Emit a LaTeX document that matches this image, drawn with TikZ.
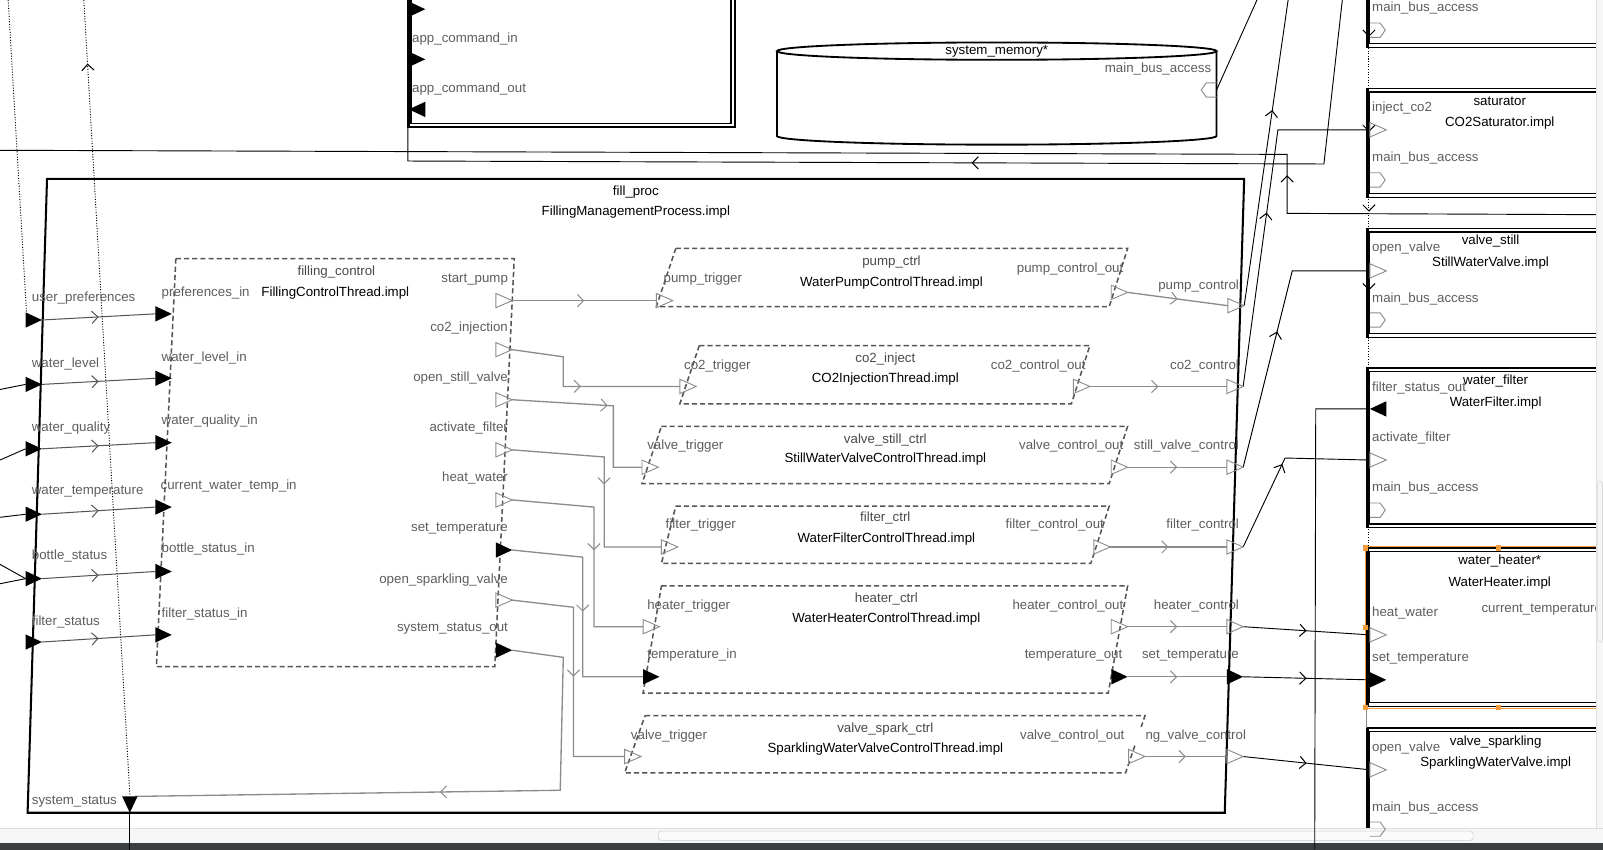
\documentclass[tikz,border=0pt]{standalone}
\usepackage{fontspec}
\setmainfont{Liberation Sans}
\usetikzlibrary{arrows.meta,decorations.markings,calc}
\definecolor{lbl}{HTML}{5E5E5E}
\definecolor{tgray}{HTML}{4A4A4A}
\definecolor{cgray}{HTML}{8C8C8C}
\definecolor{dgray}{HTML}{555555}
\definecolor{selor}{HTML}{F39C3C}
\definecolor{darkbar}{HTML}{3C3F41}
\tikzset{
  lab/.style={text=lbl},
  ttl/.style={text=black},
  tnm/.style={text=tgray},
  thrd/.style={draw=dgray, line width=1.5pt, dash pattern=on 5pt off 3pt},
  ic/.style={draw=dgray, line width=1pt},
  tc/.style={draw=cgray, line width=1.3pt},
  oc/.style={draw=black, line width=0.9pt},
  dotl/.style={draw=black, line width=0.9pt, dash pattern=on 1pt off 1.6pt},
  marr/.style={postaction={decorate,decoration={markings,mark=at position #1 with {\arrow{Straight Barb[length=6pt,width=12pt,line width=1pt]}}}}},
  marr/.default=0.5,
  colarr/.style={postaction={decorate,decoration={markings,
     mark=at position 36pt with {\arrow{Straight Barb[length=6pt,width=12pt,line width=1pt]}},
     mark=at position 129pt with {\arrow{Straight Barb[length=6pt,width=12pt,line width=1pt]}},
     mark=at position 207pt with {\arrow{Straight Barb[length=6pt,width=12pt,line width=1pt]}},
     mark=at position 284pt with {\arrow{Straight Barb[length=6pt,width=12pt,line width=1pt]}}}}},
  dIn/.pic={\fill[black] (0,-7.5) -- (16,0) -- (0,7.5) -- cycle;},
  dOut/.pic={\fill[black] (-16,-7.5) -- (0,0) -- (-16,7.5) -- cycle;},
  eIn/.pic={\draw[cgray,line width=0.9pt] (0,-7) -- (16,0) -- (0,7) -- cycle;},
  eOut/.pic={\draw[cgray,line width=0.9pt] (-16,-7) -- (0,0) -- (-16,7) -- cycle;},
  bIn/.pic={\draw[cgray,line width=0.9pt] (0,-7) -- (10,-7) -- (15,0) -- (10,7) -- (0,7);},
}
\newcommand{\rcbox}[2]{%
  \draw[line width=1.4pt] (1337,#1) rectangle (1590,#2);
  \draw[line width=1.2pt] (1339,#1+3.5) rectangle (1590,#2-3.5);
  \draw[line width=3pt] (1337.5,#1) -- (1337.5,#2);}
\begin{document}
\begin{tikzpicture}[x=1pt,y=-1pt,every node/.style={font=\fontsize{13}{15}\selectfont, inner sep=0pt}]
\useasboundingbox (0,0) rectangle (1568,831);
\clip (0,0) rectangle (1568,831);
\fill[white] (0,0) rectangle (1568,831);

% ---------- coordinates ----------
\coordinate (fpUP) at (25,313);
\coordinate (fpWL) at (25,376);
\coordinate (fpWQ) at (25,439);
\coordinate (fpWT) at (25,503);
\coordinate (fpBS) at (25,566);
\coordinate (fpFS) at (25,628);
\coordinate (fpSS) at (127,795);
\coordinate (fcPI) at (152,307);
\coordinate (fcWL) at (152,370);
\coordinate (fcWQ) at (152,433);
\coordinate (fcCT) at (152,496);
\coordinate (fcBS) at (152,559);
\coordinate (fcFS) at (152,621);
\coordinate (fcSP) at (501,294);
\coordinate (fcCO) at (501,342);
\coordinate (fcOS) at (501,391);
\coordinate (fcAF) at (501,440);
\coordinate (fcHW) at (501,489);
\coordinate (fcST) at (501,538);
\coordinate (fcOSV) at (501,587);
\coordinate (fcSS) at (501,636);
\coordinate (pcIn) at (642,294);
\coordinate (pcOut) at (1103,286);
\coordinate (ciIn) at (665,378);
\coordinate (ciOut) at (1066,378);
\coordinate (vsIn) at (628,457);
\coordinate (vsOut) at (1103,457);
\coordinate (ftIn) at (647,535);
\coordinate (ftOut) at (1086,535);
\coordinate (htIn) at (629,613);
\coordinate (htOut) at (1103,613);
\coordinate (htTIn) at (629,662);
\coordinate (htTOut) at (1103,662);
\coordinate (vpIn) at (611,740);
\coordinate (vpOut) at (1120,740);
\coordinate (fpPC) at (1217,299);
\coordinate (fpCC) at (1216,378);
\coordinate (fpSV) at (1216,457);
\coordinate (fpFC) at (1216,535);
\coordinate (fpHC) at (1216,613);
\coordinate (fpST) at (1216,662);
\coordinate (fpSVC) at (1216,740);
\coordinate (satIC) at (1340,127);
\coordinate (vsOV) at (1340,265);
\coordinate (wfFSO) at (1340,400);
\coordinate (wfAF) at (1340,450);
\coordinate (whHW) at (1340,621);
\coordinate (whST) at (1340,665);
\coordinate (vpOV) at (1340,753);
\coordinate (bus0) at (1340,29.5);
\coordinate (bus1) at (1340,176);
\coordinate (bus2) at (1340,313);
\coordinate (bus3) at (1340,499);
\coordinate (bus5) at (1340,811);
\coordinate (memBus) at (1190,88);
\coordinate (app0) at (400,9);
\coordinate (appIn) at (400,58);
\coordinate (appOut) at (400,107);
\coordinate (appBot) at (399,124);
\coordinate (eTopA) at (1260,0);
\coordinate (eTopB) at (1313,0);
\coordinate (eTopC) at (1229.5,0);
\coordinate (eTopD) at (8,0);
\coordinate (eTopE) at (82,0);
\coordinate (eRight) at (1568,210);
\coordinate (eLeft) at (0,147);
\coordinate (eBotF) at (1286,831);
\coordinate (eBotS) at (127,831);
\coordinate (eWL) at (0,381);
\coordinate (eWQ) at (0,450);
\coordinate (eWT) at (0,506);
\coordinate (eBS1) at (0,552);
\coordinate (eBS2) at (0,571);
\coordinate (colTop) at (1339,0);
\coordinate (colBot) at (1339,537);

% ---------- components ----------
% app box
\draw[line width=1.6pt] (399,-10) rectangle (719,124);
\draw[line width=1.3pt] (402,-10) rectangle (715,120.5);
\draw[line width=3pt] (400,-10) -- (400,124);

% system memory
\draw[line width=1.8pt] (975,50) ellipse [x radius=215, y radius=8.5];
\draw[line width=1.8pt] (760,50) -- (760,133) arc[start angle=180, end angle=0, x radius=215, y radius=8.5] -- (1190,50);

% fill_proc
\draw[line width=2pt] (46,175) -- (1217,175) -- (1198,795) -- (27,795) -- cycle;

% threads
\draw[thrd] (172,253) -- (503,253) -- (484,652) -- (153,652) -- cycle;
\draw[thrd] (661,243) -- (1103,243) -- (1085,300) -- (642,300) -- cycle;
\draw[thrd] (684,338) -- (1066,338) -- (1048,395) -- (665,395) -- cycle;
\draw[thrd] (647,417) -- (1103,417) -- (1085,473) -- (628,473) -- cycle;
\draw[thrd] (661,495) -- (1085,495) -- (1067,551) -- (647,551) -- cycle;
\draw[thrd] (647,573) -- (1103,573) -- (1084,678) -- (629,678) -- cycle;
\draw[thrd] (631,700) -- (1120,700) -- (1101,756) -- (611,756) -- cycle;

% right column
\rcbox{-10}{46.3}
\rcbox{86.5}{193}
\rcbox{223.5}{330}
\rcbox{360}{516}
\rcbox{536}{691}
\rcbox{712}{830}
\draw[dotl,colarr] (colTop) -- (colBot);
\draw[draw=cgray,line width=1pt] (1337,692) -- (1337,712);
% selection
\draw[selor,line width=0.6pt] (1568,534.5) -- (1335.5,534.5) -- (1335.5,692.5) -- (1568,692.5);
\foreach \p in {(1335.5,536),(1466,536),(1335.5,614),(1335.5,692),(1466,692)}
  \fill[selor] \p ++(-2.5,-2.5) rectangle ++(5,5);

% scrollbars
\fill[gray!7] (0,810) rectangle (1568,825);
\draw[gray!25,line width=0.6pt] (0,810) -- (1568,810);
\draw[gray!35,line width=0.6pt,rounded corners=3pt,fill=gray!3] (644,813) rectangle (1441,822);
\fill[darkbar] (0,825) rectangle (1568,831);

% ---------- connections ----------
\draw[ic,marr] ($(fpUP)+(16,0)$) -- (fcPI);
\draw[ic,marr] ($(fpWL)+(16,0)$) -- (fcWL);
\draw[ic,marr] ($(fpWQ)+(16,0)$) -- (fcWQ);
\draw[ic,marr] ($(fpWT)+(16,0)$) -- (fcCT);
\draw[ic,marr] ($(fpBS)+(16,0)$) -- (fcBS);
\draw[ic,marr] ($(fpFS)+(16,0)$) -- (fcFS);

\draw[tc,marr] (fcSP) -- (pcIn);
\draw[tc,marr] (fcCO) -- (551,349) -- (551,378) -- (ciIn);
\draw[tc,marr] (fcOS) -- (600,397) -- (600,457) -- (vsIn);
\draw[tc,marr] (fcAF) -- (591,447) -- (591,535) -- (ftIn);
\draw[tc,marr] (fcHW) -- (581,496) -- (581,613) -- (htIn);
\draw[tc,marr] (fcST) -- (570,545) -- (570,662) -- (htTIn);
\draw[tc,marr] (fcOSV) -- (561,594) -- (561,740) -- (vpIn);
\draw[tc,marr] (fcSS) -- (551,643) -- (548,773) -- ($(fpSS)+(5,-16)$);

\draw[tc,marr] (pcOut) -- ($(fpPC)+(-16,0)$);
\draw[tc,marr] (ciOut) -- ($(fpCC)+(-16,0)$);
\draw[tc,marr] (vsOut) -- ($(fpSV)+(-16,0)$);
\draw[tc,marr] (ftOut) -- ($(fpFC)+(-16,0)$);
\draw[tc,marr] (htOut) -- ($(fpHC)+(-16,0)$);
\draw[tc,marr] (htTOut) -- ($(fpST)+(-16,0)$);
\draw[tc,marr] (vpOut) -- ($(fpSVC)+(-16,0)$);

\draw[oc,marr=0.64] (fpPC) -- (eTopA);
\draw[oc,marr] (fpCC) -- (1250,127) -- (satIC);
\draw[oc,marr] (fpSV) -- (1264,265) -- (vsOV);
\draw[oc,marr] (fpFC) -- (1257,448) -- (wfAF);
\draw[oc,marr] (fpHC) -- (whHW);
\draw[oc,marr] (fpST) -- (whST);
\draw[oc,marr] (fpSVC) -- (vpOV);
\draw[oc] (wfFSO) -- (1287,400) -- (eBotF);
\draw[oc,marr=0.464] (eTopB) -- (1295,160.4) -- (399,157.5) -- (appBot);
\draw[oc,marr=0.213] (eRight) -- (1259,208.7) -- (1259,151) -- (eLeft);
\draw[oc] (memBus) -- (eTopC);
\draw[oc] (eWL) -- (fpWL);
\draw[oc] (eWQ) -- (fpWQ);
\draw[oc] (eWT) -- (fpWT);
\draw[oc] (eBS1) -- (fpBS);
\draw[oc] (eBS2) -- (fpBS);
\draw[dotl] (eTopD) -- ($(fpUP)+(1,-6)$);
\draw[dotl,marr=0.92] ($(fpSS)+(0,-18)$) -- (eTopE);
\draw[oc] (fpSS) -- (eBotS);

% ---------- ports ----------
\pic at (app0) {dIn};
\pic at (appIn) {dIn};
\pic[rotate=180] at (appOut) {dOut};
\pic[rotate=180] at (memBus) {bIn};
\foreach \c in {fpUP,fpWL,fpWQ,fpWT,fpBS,fpFS,fcPI,fcWL,fcWQ,fcCT,fcBS,fcFS,htTIn,whST}
  \pic at (\c) {dIn};
\foreach \c in {fcST,fcSS,htTOut,fpST}
  \pic at (\c) {dOut};
\foreach \c in {fcSP,fcCO,fcOS,fcAF,fcHW,fcOSV,pcOut,ciOut,vsOut,ftOut,htOut,vpOut,fpPC,fpCC,fpSV,fpFC,fpHC,fpSVC}
  \pic at (\c) {eOut};
\foreach \c in {pcIn,ciIn,vsIn,ftIn,htIn,vpIn,satIC,vsOV,wfAF,whHW,vpOV}
  \pic at (\c) {eIn};
\foreach \c in {bus0,bus1,bus2,bus3,bus5}
  \pic at (\c) {bIn};
\pic[rotate=180] at (wfFSO) {dOut};
\pic[rotate=-90] at (fpSS) {dOut};

% ---------- labels ----------
\node[lab,anchor=west] (tA1) at (403,38) {app\_command\_in};
\node[lab,anchor=west] (tA2) at (403,87) {app\_command\_out};
\node[ttl,fill=white,inner xsep=2pt,inner ysep=1pt] (tMem) at (975,50) {system\_memory*};
\node[lab,anchor=east] (tMemB) at (1185,67.5) {main\_bus\_access};

\node[ttl] (tFP1) at (622,187.5) {fill\_proc};
\node[ttl] (tFP2) at (622,207.5) {FillingManagementProcess.impl};
\node[lab,anchor=west] (tL1) at (31,292) {user\_preferences};
\node[lab,anchor=west] (tL2) at (31,356) {water\_level};
\node[lab,anchor=west] (tL3) at (31,419) {water\_quality};
\node[lab,anchor=west] (tL4) at (31,481) {water\_temperature};
\node[lab,anchor=west] (tL5) at (31,544) {bottle\_status};
\node[lab,anchor=west] (tL6) at (31,608) {filter\_status};
\node[lab,anchor=west] (tL7) at (31,784) {system\_status};

\node[tnm] (tFC1) at (329,266) {filling\_control};
\node[ttl] (tFC2) at (328,286.5) {FillingControlThread.impl};
\node[lab,anchor=west] (tC1) at (158,286.5) {preferences\_in};
\node[lab,anchor=west] (tC2) at (158,350) {water\_level\_in};
\node[lab,anchor=west] (tC3) at (158,412) {water\_quality\_in};
\node[lab,anchor=west] (tC4) at (157,475) {current\_water\_temp\_in};
\node[lab,anchor=west] (tC5) at (158,537) {bottle\_status\_in};
\node[lab,anchor=west] (tC6) at (158,601) {filter\_status\_in};
\node[lab,anchor=east] (tO1) at (497,273) {start\_pump};
\node[lab,anchor=east] (tO2) at (497,321) {co2\_injection};
\node[lab,anchor=east] (tO3) at (497,370) {open\_still\_valve};
\node[lab,anchor=east] (tO4) at (497,419) {activate\_filter};
\node[lab,anchor=east] (tO5) at (497,468) {heat\_water};
\node[lab,anchor=east] (tO6) at (497,517) {set\_temperature};
\node[lab,anchor=east] (tO7) at (497,567) {open\_sparkling\_valve};
\node[lab,anchor=east] (tO8) at (497,615) {system\_status\_out};

\node[tnm] (tP1) at (872,256) {pump\_ctrl};
\node[ttl] (tP2) at (872,277) {WaterPumpControlThread.impl};
\node[lab,anchor=west] (tP3) at (649,273) {pump\_trigger};
\node[lab,anchor=east] (tP4) at (1099,263) {pump\_control\_out};

\node[tnm] (tI1) at (866,351) {co2\_inject};
\node[ttl] (tI2) at (866,371) {CO2InjectionThread.impl};
\node[lab,anchor=west] (tI3) at (669,358) {co2\_trigger};
\node[lab,anchor=east] (tI4) at (1062,358) {co2\_control\_out};

\node[tnm] (tS1) at (866,430) {valve\_still\_ctrl};
\node[ttl] (tS2) at (866,449) {StillWaterValveControlThread.impl};
\node[lab,anchor=west] (tS3) at (633,436) {valve\_trigger};
\node[lab,anchor=east] (tS4) at (1099,436) {valve\_control\_out};

\node[tnm] (tF1) at (866,507) {filter\_ctrl};
\node[ttl] (tF2) at (867,527) {WaterFilterControlThread.impl};
\node[lab,anchor=west] (tF3) at (651,514) {filter\_trigger};
\node[lab,anchor=east] (tF4) at (1080,514) {filter\_control\_out};

\node[tnm] (tH1) at (867,586) {heater\_ctrl};
\node[ttl] (tH2) at (867,606) {WaterHeaterControlThread.impl};
\node[lab,anchor=west] (tH3) at (633,593) {heater\_trigger};
\node[lab,anchor=west] (tH4) at (633,641) {temperature\_in};
\node[lab,anchor=east] (tH5) at (1099,593) {heater\_control\_out};
\node[lab,anchor=east] (tH6) at (1098,641) {temperature\_out};

\node[tnm] (tV1) at (866,713) {valve\_spark\_ctrl};
\node[ttl] (tV2) at (866,733) {SparklingWaterValveControlThread.impl};
\node[lab,anchor=west] (tV3) at (617,720) {valve\_trigger};

\node[lab,anchor=east] (tR1) at (1212,280) {pump\_control};
\node[lab,anchor=east] (tR2) at (1212,358) {co2\_control};
\node[lab,anchor=east] (tR3) at (1212,436) {still\_valve\_control};
\node[lab,anchor=east] (tR4) at (1212,514) {filter\_control};
\node[lab,anchor=east] (tR5) at (1212,593) {heater\_control};
\node[lab,anchor=east] (tR6) at (1212,641) {set\_temperature};
\node[lab,anchor=east] (tR7) at (1219,720) {sparkling\_valve\_control};
\fill[white] (1100,711) rectangle (1120.5,729);
\node[lab,anchor=east,fill=white,inner xsep=1pt,inner ysep=2pt] (tV4) at (1101,720) {valve\_control\_out};

% right column labels
\node[lab,anchor=west] (tB0) at (1342,8) {main\_bus\_access};
\node[ttl] (tSa1) at (1467,99) {saturator};
\node[ttl] (tSa2) at (1467,120) {CO2Saturator.impl};
\node[lab,anchor=west] (tSa3) at (1342,106) {inject\_co2};
\node[lab,anchor=west] (tSa4) at (1342,155) {main\_bus\_access};
\node[ttl] (tVs1) at (1458,236) {valve\_still};
\node[ttl] (tVs2) at (1458,257) {StillWaterValve.impl};
\node[lab,anchor=west] (tVs3) at (1342,243) {open\_valve};
\node[lab,anchor=west] (tVs4) at (1342,292) {main\_bus\_access};
\node[ttl] (tWf1) at (1463,373) {water\_filter};
\node[ttl] (tWf2) at (1463,394) {WaterFilter.impl};
\node[lab,anchor=west] (tWf3) at (1342,380) {filter\_status\_out};
\node[lab,anchor=west] (tWf4) at (1342,428) {activate\_filter};
\node[lab,anchor=west] (tWf5) at (1342,477) {main\_bus\_access};
\node[ttl] (tWh1) at (1467,549) {water\_heater*};
\node[ttl] (tWh2) at (1467,570) {WaterHeater.impl};
\node[lab,anchor=west] (tWh3) at (1342,600) {heat\_water};
\node[lab,anchor=west] (tWh4) at (1342,644) {set\_temperature};
\node[lab,anchor=west] (tWh5) at (1449,596) {current\_temperature\_out};
\node[ttl] (tVp1) at (1463,726) {valve\_sparkling};
\node[ttl] (tVp2) at (1463,746) {SparklingWaterValve.impl};
\node[lab,anchor=west] (tVp3) at (1342,732) {open\_valve};
\node[lab,anchor=west] (tVp4) at (1342,790) {main\_bus\_access};

% scrollbar on right edge
\fill[gray!7] (1561,0) rectangle (1568,810);
\draw[gray!25,line width=0.6pt] (1561,0) -- (1561,810);
\draw[gray!30,line width=0.6pt,rounded corners=2pt] (1562.5,471) rectangle (1567.5,628);
\end{tikzpicture}
\end{document}
